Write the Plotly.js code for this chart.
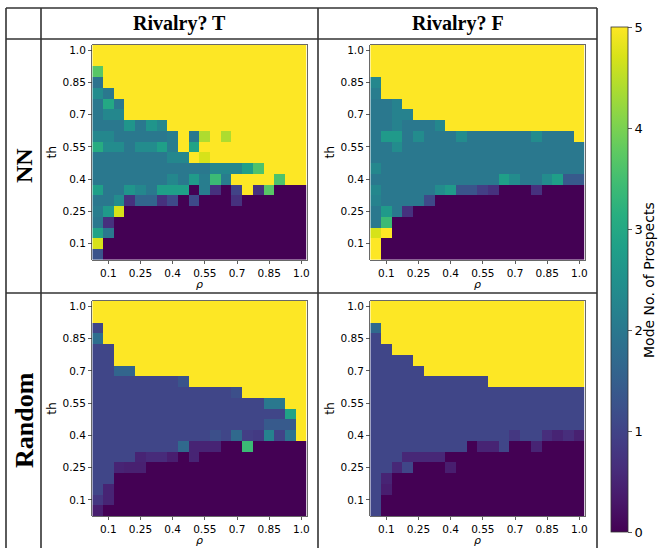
<!DOCTYPE html>
<html>
<head>
<meta charset="utf-8">
<script src="https://cdn.plot.ly/plotly-3.0.1.min.js"></script>
<style>html,body{margin:0;padding:0;background:#fff;}#chart{width:658px;height:548px;}</style>
</head>
<body>
<div id="chart"></div>
<script>
// ---- data ----
const rho = [0.05,0.1,0.15,0.2,0.25,0.3,0.35,0.4,0.45,0.5,0.55,0.6,0.65,0.7,0.75,0.8,0.85,0.9,0.95,1.0];
const th = [1.0,0.95,0.9,0.85,0.8,0.75,0.7,0.65,0.6,0.55,0.5,0.45,0.4,0.35,0.3,0.25,0.2,0.15,0.1,0.05];
const tickVals = [0.1,0.25,0.4,0.55,0.7,0.85,1.0];
const tickText = ['0.1','0.25','0.4','0.55','0.7','0.85','1.0'];
const colLabels = ['Rivalry? T','Rivalry? F'];
const rowLabels = ['NN','Random'];
const cbLabel = 'Mode No. of Prospects';

// rows listed from th = 1.0 (top) down to th = 0.05 (bottom); columns rho 0.05 -> 1.0
const nnT = [
[5,5,5,5,5,5,5,5,5,5,5,5,5,5,5,5,5,5,5,5],
[5,5,5,5,5,5,5,5,5,5,5,5,5,5,5,5,5,5,5,5],
[3.7,5,5,5,5,5,5,5,5,5,5,5,5,5,5,5,5,5,5,5],
[1.9,5,5,5,5,5,5,5,5,5,5,5,5,5,5,5,5,5,5,5],
[2.4,2.0,5,5,5,5,5,5,5,5,5,5,5,5,5,5,5,5,5,5],
[2.0,3.0,2.0,5,5,5,5,5,5,5,5,5,5,5,5,5,5,5,5,5],
[2.0,2.3,2.3,5,5,5,5,5,5,5,5,5,5,5,5,5,5,5,5,5],
[2.0,2.0,2.0,2.6,2.0,2.6,2.3,5,5,5,5,5,5,5,5,5,5,5,5,5],
[2.3,2.3,2.0,2.0,2.0,2.0,2.0,2.1,5,2.0,4.4,5,4.4,5,5,5,5,5,5,5],
[3.1,2.4,2.4,2.0,2.4,2.4,2.8,2.1,5,2.9,5,5,5,5,5,5,5,5,5,5],
[2.0,2.0,2.0,2.0,2.0,2.0,2.0,2.3,2.3,5,4.7,5,5,5,5,5,5,5,5,5],
[2.0,2.0,2.0,2.0,2.0,2.0,2.0,2.0,2.0,2.0,2.0,2.3,2.3,2.3,2.8,3.6,5,5,5,5],
[2.0,2.0,2.0,2.0,2.0,2.0,2.0,2.3,2.0,2.7,2.1,3.4,2.1,5,5,5,5,3.6,5,5],
[2.8,2.0,2.0,2.6,2.3,2.0,2.8,2.8,2.8,0,2.1,0.7,0,1.0,5,0.7,3.7,0,0,0],
[2.0,2.0,2.4,0.7,1.6,1.6,0.7,1.1,0,1.1,0,0,0,0.7,0,0,0,0,0,0],
[2.1,2.7,4.7,0,0,0,0,0,0,0,0,0,0,0,0,0,0,0,0,0],
[2.0,0.7,0,0,0,0,0,0,0,0,0,0,0,0,0,0,0,0,0,0],
[2.9,2.0,0,0,0,0,0,0,0,0,0,0,0,0,0,0,0,0,0,0],
[4.7,0,0,0,0,0,0,0,0,0,0,0,0,0,0,0,0,0,0,0],
[1.3,0,0,0,0,0,0,0,0,0,0,0,0,0,0,0,0,0,0,0]
];

const nnF = [
[5,5,5,5,5,5,5,5,5,5,5,5,5,5,5,5,5,5,5,5],
[5,5,5,5,5,5,5,5,5,5,5,5,5,5,5,5,5,5,5,5],
[5,5,5,5,5,5,5,5,5,5,5,5,5,5,5,5,5,5,5,5],
[2.3,5,5,5,5,5,5,5,5,5,5,5,5,5,5,5,5,5,5,5],
[2.1,5,5,5,5,5,5,5,5,5,5,5,5,5,5,5,5,5,5,5],
[2.0,2.0,2.2,5,5,5,5,5,5,5,5,5,5,5,5,5,5,5,5,5],
[2.0,2.0,2.2,2.2,5,5,5,5,5,5,5,5,5,5,5,5,5,5,5,5],
[2.0,2.0,2.2,2.0,2.0,2.0,2.3,5,5,5,5,5,5,5,5,5,5,5,5,5],
[2.0,2.7,2.7,2.0,2.4,2.0,2.0,2.0,2.4,2.0,2.0,2.0,2.0,2.0,2.0,2.4,2.0,2.0,2.0,5],
[2.0,2.0,2.4,2.0,2.0,2.0,2.0,2.0,2.0,2.0,2.0,2.0,2.0,2.0,2.0,2.0,2.0,2.0,2.0,2.0],
[2.0,2.0,2.0,2.0,2.0,2.0,2.0,2.0,2.0,2.0,2.0,2.0,2.0,2.0,2.0,2.0,2.0,2.0,2.0,2.0],
[2.3,2.0,2.0,2.0,2.0,2.0,2.0,2.0,2.0,2.0,2.0,2.0,2.0,2.0,2.0,2.0,2.0,2.0,2.0,2.0],
[2.0,2.0,2.0,2.0,2.0,2.0,2.0,2.0,2.0,2.0,2.0,2.0,2.8,2.4,2.0,2.0,2.4,2.8,1.4,1.4],
[2.3,2.0,2.0,2.0,2.0,2.0,2.4,2.7,1.3,1.3,0.9,0.7,0,0,0,0.7,0,0,0,0],
[2.2,2.0,2.0,2.0,2.0,1.1,0,0,0,0,0,0,0,0,0,0,0,0,0,0],
[2.0,2.7,2.0,0.7,0,0,0,0,0,0,0,0,0,0,0,0,0,0,0,0],
[2.0,3.4,0,0,0,0,0,0,0,0,0,0,0,0,0,0,0,0,0,0],
[4.7,5,0,0,0,0,0,0,0,0,0,0,0,0,0,0,0,0,0,0],
[5,0,0,0,0,0,0,0,0,0,0,0,0,0,0,0,0,0,0,0],
[5,0,0,0,0,0,0,0,0,0,0,0,0,0,0,0,0,0,0,0]
];

const rndT = [
[5,5,5,5,5,5,5,5,5,5,5,5,5,5,5,5,5,5,5,5],
[5,5,5,5,5,5,5,5,5,5,5,5,5,5,5,5,5,5,5,5],
[1.05,5,5,5,5,5,5,5,5,5,5,5,5,5,5,5,5,5,5,5],
[1.8,5,5,5,5,5,5,5,5,5,5,5,5,5,5,5,5,5,5,5],
[1.05,1.05,5,5,5,5,5,5,5,5,5,5,5,5,5,5,5,5,5,5],
[1.05,1.05,5,5,5,5,5,5,5,5,5,5,5,5,5,5,5,5,5,5],
[1.05,1.05,1.6,1.6,5,5,5,5,5,5,5,5,5,5,5,5,5,5,5,5],
[1.05,1.05,1.05,1.05,1.05,1.05,1.05,1.05,1.3,5,5,5,5,5,5,5,5,5,5,5],
[1.05,1.05,1.05,1.05,1.05,1.05,1.05,1.05,1.05,1.05,1.05,1.05,1.05,1.2,5,5,5,5,5,5],
[1.05,1.05,1.05,1.05,1.05,1.05,1.05,1.05,1.05,1.05,1.05,1.05,1.05,1.05,1.05,1.05,2.0,2.0,5,5],
[1.05,1.05,1.05,1.05,1.05,1.05,1.05,1.05,1.05,1.05,1.05,1.05,1.05,1.05,1.05,1.05,1.05,1.05,2.9,5],
[1.05,1.05,1.05,1.05,1.05,1.05,1.05,1.05,1.05,1.05,1.05,1.05,1.05,1.05,1.05,1.05,1.4,1.4,1.4,5],
[1.05,1.05,1.05,1.05,1.05,1.05,1.05,1.05,1.05,1.05,1.05,1.2,1.05,1.7,0.9,0.85,2.2,1.0,1.9,5],
[1.05,1.05,1.05,1.05,1.05,1.05,1.05,1.05,1.7,0.5,0.5,0.5,0,0,3.4,0,0,0,0,0],
[1.05,1.05,1.05,1.05,0.5,0.6,0.6,0.4,0,0.5,0,0,0,0,0,0,0,0,0,0],
[1.05,1.05,0.5,0.45,0.45,0,0,0,0,0,0,0,0,0,0,0,0,0,0,0],
[1.05,1.05,0,0,0,0,0,0,0,0,0,0,0,0,0,0,0,0,0,0],
[1.05,0.5,0,0,0,0,0,0,0,0,0,0,0,0,0,0,0,0,0,0],
[0.8,0.5,0,0,0,0,0,0,0,0,0,0,0,0,0,0,0,0,0,0],
[0.4,0,0,0,0,0,0,0,0,0,0,0,0,0,0,0,0,0,0,0]
];

const rndF = [
[5,5,5,5,5,5,5,5,5,5,5,5,5,5,5,5,5,5,5,5],
[5,5,5,5,5,5,5,5,5,5,5,5,5,5,5,5,5,5,5,5],
[1.7,5,5,5,5,5,5,5,5,5,5,5,5,5,5,5,5,5,5,5],
[1.05,5,5,5,5,5,5,5,5,5,5,5,5,5,5,5,5,5,5,5],
[1.05,1.05,5,5,5,5,5,5,5,5,5,5,5,5,5,5,5,5,5,5],
[1.05,1.05,1.05,1.05,5,5,5,5,5,5,5,5,5,5,5,5,5,5,5,5],
[1.05,1.05,1.05,1.05,1.05,5,5,5,5,5,5,5,5,5,5,5,5,5,5,5],
[1.05,1.05,1.05,1.05,1.05,1.05,1.05,1.05,1.05,1.05,1.05,5,5,5,5,5,5,5,5,5],
[1.05,1.05,1.05,1.05,1.05,1.05,1.05,1.05,1.05,1.05,1.05,1.05,1.05,1.05,1.05,1.05,1.05,1.05,1.05,1.05],
[1.05,1.05,1.05,1.05,1.05,1.05,1.05,1.05,1.05,1.05,1.05,1.05,1.05,1.05,1.05,1.05,1.05,1.05,1.05,1.05],
[1.05,1.05,1.05,1.05,1.05,1.05,1.05,1.05,1.05,1.05,1.05,1.05,1.05,1.05,1.05,1.05,1.05,1.05,1.05,1.05],
[1.05,1.05,1.05,1.05,1.05,1.05,1.05,1.05,1.05,1.05,1.05,1.05,1.05,1.05,1.05,1.05,1.05,1.05,1.05,1.05],
[1.05,1.05,1.05,1.05,1.05,1.05,1.05,1.05,1.05,1.05,1.05,1.05,1.05,0.8,1.05,1.05,0.65,0.5,0.65,0.45],
[1.05,1.05,1.05,1.05,1.05,1.05,1.05,1.05,1.05,0,0.5,0.5,1.05,0,0,0.5,0,0,0,0],
[1.05,1.05,1.05,0.55,0.55,0.55,0.55,0,0,0,0,0,0,0,0,0,0,0,0,0],
[1.05,1.05,0.55,1.05,0,0,0,0.4,0,0,0,0,0,0,0,0,0,0,0,0],
[1.05,0.5,0,0,0,0,0,0,0,0,0,0,0,0,0,0,0,0,0,0],
[1.05,0.4,0,0,0,0,0,0,0,0,0,0,0,0,0,0,0,0,0,0],
[1.05,0,0,0,0,0,0,0,0,0,0,0,0,0,0,0,0,0,0,0],
[1.05,0,0,0,0,0,0,0,0,0,0,0,0,0,0,0,0,0,0,0]
];

// ---- layout helpers (pixel -> paper) ----
const W = 658, H = 548;
const px = v => v / W;
const py = v => 1 - v / H;

const xDomL = [px(92.3), px(306.7)];
const xDomR = [px(370.3), px(584.7)];
const yDomT = [py(259.8), py(44.8)];
const yDomB = [py(516), py(301)];

const panels = [
  {z: nnT, xa: 'x',  ya: 'y',  xd: xDomL, yd: yDomT},
  {z: nnF, xa: 'x2', ya: 'y2', xd: xDomR, yd: yDomT},
  {z: rndT, xa: 'x3', ya: 'y3', xd: xDomL, yd: yDomB},
  {z: rndF, xa: 'x4', ya: 'y4', xd: xDomR, yd: yDomB}
];

const traces = panels.map((p, i) => ({
  type: 'heatmap',
  x: rho, y: th, z: p.z,
  xaxis: p.xa, yaxis: p.ya,
  colorscale: 'Viridis', zmin: 0, zmax: 5,
  showscale: i === 0,
  hoverinfo: 'skip',
  colorbar: {
    x: px(611), xanchor: 'left', xpad: 0, ypad: 0,
    y: py(279.5), yanchor: 'middle',
    len: 505, lenmode: 'pixels', thickness: 17, thicknessmode: 'pixels',
    outlinewidth: 0.8, outlinecolor: '#333',
    tickvals: [0,1,2,3,4,5], ticktext: ['0','1','2','3','4','5'],
    ticks: 'outside', ticklen: 4, tickwidth: 0.8, tickcolor: '#333',
    tickfont: {family: 'DejaVu Sans', size: 13, color: '#000'}
  }
}));

const axisBase = {
  range: [0.025, 1.025], showgrid: false, zeroline: false,
  showline: true, mirror: true, linecolor: '#444', linewidth: 0.8,
  ticks: 'outside', ticklen: 3.5, tickwidth: 0.8, tickcolor: '#333',
  tickvals: tickVals, ticktext: tickText,
  tickfont: {family: 'DejaVu Sans', size: 10.5, color: '#000'}
};

const layout = {
  width: W, height: H,
  margin: {l: 0, r: 0, t: 0, b: 0},
  paper_bgcolor: '#fff', plot_bgcolor: '#fff',
  showlegend: false,
  font: {family: 'DejaVu Sans'},
  annotations: [],
  shapes: []
};

panels.forEach((p, i) => {
  const n = i === 0 ? '' : String(i + 1);
  layout['xaxis' + n] = Object.assign({}, axisBase, {domain: p.xd, anchor: p.ya});
  layout['yaxis' + n] = Object.assign({}, axisBase, {domain: p.yd, anchor: p.xa});
  const cx = (p.xd[0] + p.xd[1]) / 2;
  const cy = (p.yd[0] + p.yd[1]) / 2;
  layout.annotations.push({
    text: 'ρ', xref: 'paper', yref: 'paper', x: cx, y: p.yd[0] - 24.5 / H,
    xanchor: 'center', yanchor: 'middle', showarrow: false, borderpad: 0,
    font: {family: 'DejaVu Sans', size: 11, color: '#000', style: 'italic'}
  });
  layout.annotations.push({
    text: 'th', xref: 'paper', yref: 'paper', x: p.xd[0] - 41 / W, y: cy,
    xanchor: 'center', yanchor: 'middle', showarrow: false, textangle: -90,
    font: {family: 'DejaVu Sans', size: 12.5, color: '#000'}
  });
});

// column and row headers
const serif = {family: 'Liberation Serif', size: 20, color: '#000', weight: 'bold'};
layout.annotations.push({text: colLabels[0], xref: 'paper', yref: 'paper', x: px(179.5), y: py(23.5),
  xanchor: 'center', yanchor: 'middle', showarrow: false, font: serif});
layout.annotations.push({text: colLabels[1], xref: 'paper', yref: 'paper', x: px(457.5), y: py(23.5),
  xanchor: 'center', yanchor: 'middle', showarrow: false, font: serif});
layout.annotations.push({text: rowLabels[0], xref: 'paper', yref: 'paper', x: px(24), y: py(166),
  xanchor: 'center', yanchor: 'middle', showarrow: false, textangle: -90,
  font: Object.assign({}, serif, {size: 24})});
layout.annotations.push({text: rowLabels[1], xref: 'paper', yref: 'paper', x: px(24), y: py(420),
  xanchor: 'center', yanchor: 'middle', showarrow: false, textangle: -90,
  font: Object.assign({}, serif, {size: 26})});
// colorbar label
layout.annotations.push({text: cbLabel, xref: 'paper', yref: 'paper', x: px(649), y: py(280),
  xanchor: 'center', yanchor: 'middle', showarrow: false, textangle: -90,
  font: {family: 'DejaVu Sans', size: 14, color: '#000'}});

// table grid lines
const lineStyle = {color: '#333', width: 1.6};
const vLines = [6, 41, 318, 597];
const hLines = [8, 39, 293];
vLines.forEach(v => layout.shapes.push({type: 'line', xref: 'paper', yref: 'paper',
  x0: px(v), x1: px(v), y0: py(8), y1: py(548), line: lineStyle}));
hLines.forEach(h => layout.shapes.push({type: 'line', xref: 'paper', yref: 'paper',
  x0: px(6), x1: px(597), y0: py(h), y1: py(h), line: lineStyle}));

Plotly.newPlot('chart', traces, layout, {staticPlot: true, displayModeBar: false});
</script>
</body>
</html>
